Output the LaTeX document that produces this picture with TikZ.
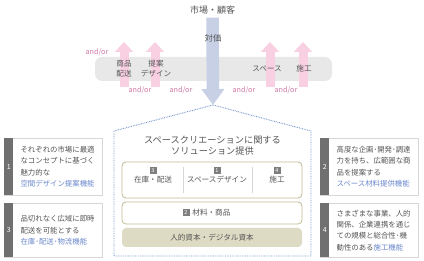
\documentclass[tikz,border=0pt]{standalone}
\usepackage{fontspec}
\setmainfont{Noto Sans CJK JP}
\usetikzlibrary{arrows.meta,positioning}
\definecolor{txgray}{RGB}{85,85,85}
\definecolor{fnblue}{RGB}{105,135,205}
\definecolor{valblue}{RGB}{200,208,230}
\definecolor{flowpink}{RGB}{248,208,226}
\definecolor{aopink}{RGB}{205,120,165}
\definecolor{bandgray}{RGB}{232,232,232}
\definecolor{olive}{RGB}{196,186,146}
\definecolor{olivefill}{RGB}{222,219,196}
\definecolor{bargray}{RGB}{112,112,112}
\definecolor{framegray}{RGB}{215,215,215}
\definecolor{houseblue}{RGB}{120,150,205}
\tikzset{
  andor/.style={text=aopink,font=\fontsize{7.2}{8}\selectfont,inner sep=0pt},
  flow/.style={draw=flowpink,line width=9pt,-{Triangle[width=18pt,length=10pt]}},
  value/.style={draw=valblue,line width=12.5pt,-{Triangle[width=22pt,length=16pt]}},
  bandtext/.style={text=txgray,font=\fontsize{7.6}{10.5}\selectfont,align=center,inner sep=0pt},
  sidebox/.style={draw=framegray,fill=white,minimum width=98,minimum height=57,anchor=north west,inner sep=0pt},
  sidebar/.style={fill=bargray,text=white,minimum width=9,inner sep=0pt,anchor=west,font=\fontsize{7}{8}\selectfont},
  sidetext/.style={text=txgray,font=\fontsize{7.4}{11.3}\selectfont,align=left,inner sep=0pt},
  olivebox/.style={draw=olive,line width=0.8pt,rounded corners=4pt,fill=white,minimum width=180},
  badge/.style={fill=bargray!90,text=white,minimum size=7,inner sep=0pt,font=\fontsize{5.5}{6}\selectfont},
  boxtext/.style={text=txgray,font=\fontsize{7.6}{9}\selectfont,inner sep=0pt}
}
\begin{document}
\begin{tikzpicture}[x=1pt,y=-1pt]
  \useasboundingbox (0,0) rectangle (424,261);
  % band of offers
  \node[fill=bandgray,rounded corners=7pt,minimum width=237,minimum height=24] (band) at (213.5,69) {};
  \coordinate (up1) at (124,87); \coordinate (tip1) at (124,42);
  \coordinate (up2) at (155,87); \coordinate (tip2) at (155,42);
  \coordinate (up3) at (270,87); \coordinate (tip3) at (270,42);
  \coordinate (up4) at (303,87); \coordinate (tip4) at (303,42);
  \draw[flow] (up1)--(tip1); \draw[flow] (up2)--(tip2);
  \draw[flow] (up3)--(tip3); \draw[flow] (up4)--(tip4);
  % market and value
  \node[text=txgray,font=\fontsize{9}{10}\selectfont] (market) at (212.5,10) {市場・顧客};
  \coordinate (apex) at (213,105);
  \draw[value] (market.south)--(apex);
  \node[text=txgray,font=\fontsize{8.4}{9}\selectfont,inner sep=0pt] (price) at (213,38) {対価};
  \node[bandtext] (goods) at (124,68.5) {商品\\配送};
  \node[bandtext] (design) at (156,68.5) {提案\\デザイン};
  \node[bandtext] (space) at (267,69) {スペース};
  \node[bandtext] (works) at (304,69) {施工};
  \node[andor] (ao1) at (97,52) {and/or};
  \node[andor] (ao2) at (140,90) {and/or};
  \node[andor] (ao3) at (181,90) {and/or};
  \node[andor] (ao4) at (244,90) {and/or};
  \node[andor] (ao5) at (286,90) {and/or};
  % solution house
  \draw[houseblue,line width=0.9pt,dash pattern=on 0.8pt off 0.9pt]
    (114,256)--(114,131)--(apex)--(311,131)--(311,256)--cycle;
  \node[text=txgray,font=\fontsize{9.2}{11}\selectfont,align=center,inner sep=0pt] (sol) at (212.5,145.5)
    {スペースクリエーションに関する\\ソリューション提供};
  \node[olivebox,minimum height=36] (svc) at (212,180) {};
  \draw[framegray,line width=0.7pt] (183,167)--(183,193);
  \draw[framegray,line width=0.7pt] (252,167)--(252,193);
  \node[badge] (b3) at (153,170.5) {3};
  \node[boxtext,below=1.5pt of b3] (c3) {在庫・配送};
  \node[badge] (b1) at (217,170.5) {1};
  \node[boxtext,below=1.5pt of b1] (c1) {スペースデザイン};
  \node[badge] (b4) at (277,170.5) {4};
  \node[boxtext,below=1.5pt of b4] (c4) {施工};
  \node[olivebox,minimum height=22] (mat) at (212,213) {};
  \node[badge] (b2) at (186,213) {2};
  \node[boxtext,right=2.5pt of b2] (c2) {材料・商品};
  \node[fill=olivefill,rounded corners=4pt,minimum width=180,minimum height=19] (cap) at (212,237.5) {};
  \node[boxtext] (capt) at (212,237.5) {人的資本・デジタル資本};
  % functions
  \node[sidebox] (f1) at (4,138) {};
  \node[sidebar,minimum height=57] (s1) at (f1.west) {1};
  \node[sidetext,right=7pt of s1] (t1) {それぞれの市場に最適\\なコンセプトに基づく\\魅力的な\\{\color{fnblue}空間デザイン提案機能}};
  \node[sidebox,minimum height=54] (f3) at (4,203) {};
  \node[sidebar,minimum height=54] (s3) at (f3.west) {3};
  \node[sidetext,right=7pt of s3] (t3) {品切れなく広域に即時\\配送を可能とする\\{\color{fnblue}在庫･配送･物流機能}};
  \node[sidebox] (f2) at (320,138) {};
  \node[sidebar,minimum height=57] (s2) at (f2.west) {2};
  \node[sidetext,right=7pt of s2] (t2) {高度な企画･開発･調達\\力を持ち、広範囲な商\\品を提案する\\{\color{fnblue}スペース材料提供機能}};
  \node[sidebox,minimum height=54] (f4) at (320,203) {};
  \node[sidebar,minimum height=54] (s4) at (f4.west) {4};
  \node[sidetext,right=7pt of s4] (t4) {さまざまな事業、人的\\関係、企業連携を通じ\\ての規模と総合性･機\\動性のある{\color{fnblue}施工機能}};
\end{tikzpicture}
\end{document}
